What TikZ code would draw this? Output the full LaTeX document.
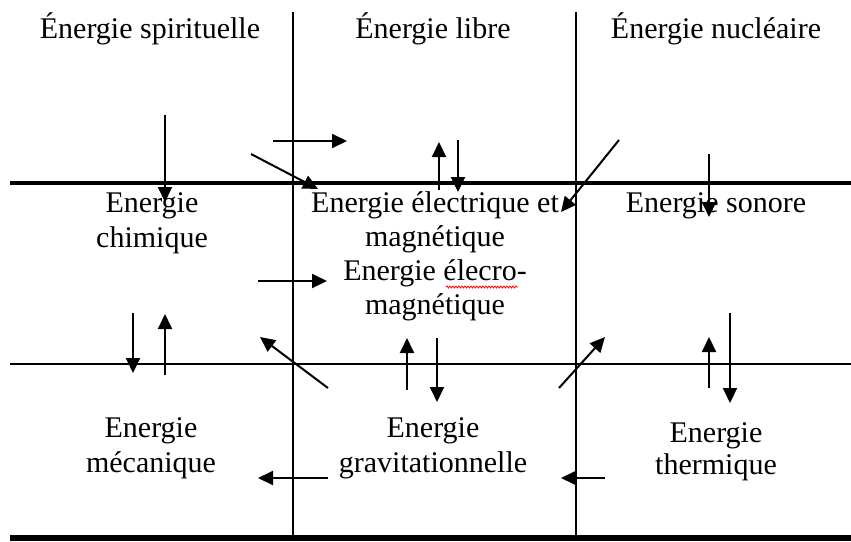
\documentclass[tikz,border=0pt]{standalone}
\usepackage{fontspec}
\setmainfont{Liberation Serif}
\usetikzlibrary{arrows.meta,decorations.pathmorphing}
\begin{document}
\begin{tikzpicture}[x=1pt,y=-1pt,
  lbl/.style={anchor=base,inner sep=0pt,font=\fontsize{30}{34}\selectfont},
  gridline/.style={line width=1.6pt},
  heavyline/.style={line width=4.5pt},
  baseline6/.style={line width=6pt},
  arr/.style={line width=2pt,-{Triangle[length=15pt,width=14pt]}},
  squiggle/.style={red,line width=0.8pt,decorate,decoration={snake,amplitude=1pt,segment length=3pt}}]
\useasboundingbox[fill=white] (0,0) rectangle (851,541);

% grid
\draw[gridline] (293,12) -- (293,541);
\draw[gridline] (576,12) -- (576,541);
\draw[heavyline] (10,183) -- (851,183);
\draw[gridline] (10,364) -- (851,364);
\draw[baseline6] (10,538) -- (851,538);

% labels
\node[lbl] (sp) at (150,38) {Énergie spirituelle};
\node[lbl] (li) at (433,38) {Énergie libre};
\node[lbl] (nu) at (716,38) {Énergie nucléaire};

\node[lbl] (ch1) at (152,212) {Energie};
\node[lbl] (ch2) at (152,247) {chimique};

\node[lbl] (el1) at (435,212) {Energie électrique et};
\node[lbl] (el2) at (435,246) {magnétique};
\node[lbl] (el3) at (435,280) {Energie élecro-};
\node[lbl] (el4) at (435,314) {magnétique};

\node[lbl] (so) at (716,212) {Energie sonore};

\node[lbl] (me1) at (151,437) {Energie};
\node[lbl] (me2) at (151,472) {mécanique};

\node[lbl] (gr1) at (433,437) {Energie};
\node[lbl] (gr2) at (433,472) {gravitationnelle};

\node[lbl] (th1) at (716,442) {Energie};
\node[lbl] (th2) at (716,474) {thermique};

\draw[squiggle] (446,287) -- (518,287);

% arrows, top band
\draw[arr] (165,115) -- (165,202);
\draw[arr] (251,154) -- (318,189);
\draw[arr] (273,141) -- (347,141);
\draw[arr] (439,190) -- (439,142);
\draw[arr] (458,140) -- (458,192);
\draw[arr] (619,140) -- (561,212);
\draw[arr] (709,154) -- (709,217);

% middle band
\draw[arr] (258,281) -- (327,281);
\draw[arr] (133,313) -- (133,373);
\draw[arr] (165,375) -- (165,314);
\draw[arr] (328,388) -- (260,337);
\draw[arr] (407,390) -- (407,338);
\draw[arr] (437,338) -- (437,402);
\draw[arr] (559,388) -- (605,337);
\draw[arr] (709,388) -- (709,337);
\draw[arr] (730,313) -- (730,403);

% bottom band
\draw[arr] (328,478) -- (258,478);
\draw[arr] (605,478) -- (561,478);
\end{tikzpicture}
\end{document}
